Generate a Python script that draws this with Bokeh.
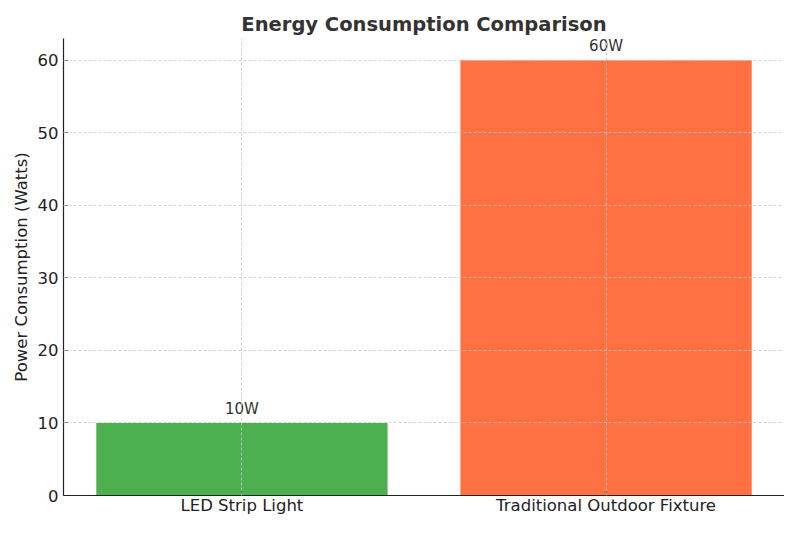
from bokeh.plotting import figure
from bokeh.models import FactorRange, Range1d, ColumnDataSource, FixedTicker
from bokeh.core.properties import value
from bokeh.embed import file_html
from bokeh.resources import INLINE

categories = ["LED Strip Light", "Traditional Outdoor Fixture"]
watts = [10, 60]
colors = ["#4CAF50", "#FF7043"]
bar_labels = ["10W", "60W"]
y_ticks = [0, 10, 20, 30, 40, 50, 60]

FONT = "DejaVu Sans"

source = ColumnDataSource(dict(cat=categories, w=watts, color=colors, lab=bar_labels))

p = figure(
    width=784, height=517,
    x_range=FactorRange(factors=categories, range_padding=-0.01),
    y_range=Range1d(0, 63),
    output_backend="svg", toolbar_location=None,
    min_border_left=63, min_border_right=0, min_border_top=38, min_border_bottom=18,
)
p.outline_line_color = None

p.title.text = "Energy Consumption Comparison"
p.title.align = "center"
p.title.text_font = FONT
p.title.text_font_style = "bold"
p.title.text_font_size = "19.5px"
p.title.text_color = "#333333"
p.title.standoff = 6

p.vbar(x="cat", top="w", width=0.8, color="color", line_color=None, source=source)

p.text(x="cat", y="w", text="lab", source=source, text_align="center",
       text_baseline="bottom", y_offset=-5, text_font=value(FONT),
       text_font_size="15px", text_color="#333333")

for ax in (p.xaxis, p.yaxis):
    ax.axis_line_color = "#222222"
    ax.axis_line_width = 1.2
    ax.major_tick_line_color = "#222222"
    ax.major_tick_in = 4
    ax.major_tick_out = 0
    ax.minor_tick_line_color = None
    ax.major_label_text_font = FONT
    ax.major_label_text_font_size = "16.5px"
    ax.major_label_text_color = "#222222"
    ax.axis_label_text_font = FONT
    ax.axis_label_text_font_size = "16.5px"
    ax.axis_label_text_font_style = "normal"
    ax.axis_label_text_color = "#222222"

p.yaxis.ticker = FixedTicker(ticks=y_ticks)
p.yaxis.axis_label = "Power Consumption (Watts)"
p.yaxis.major_label_standoff = 5
p.yaxis.axis_label_standoff = 4
p.xaxis.major_label_standoff = 0

for g in (p.xgrid, p.ygrid):
    g.grid_line_color = "#c8c8c8"
    g.grid_line_width = 0.8
    g.grid_line_dash = "3 2"
    g.level = "annotation"
p.ygrid.ticker = FixedTicker(ticks=y_ticks)

open("out.html", "w").write(file_html(p, INLINE))
